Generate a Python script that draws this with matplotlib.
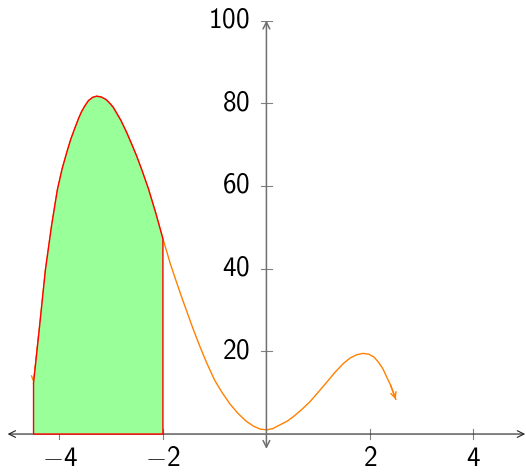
import matplotlib
matplotlib.use("Agg")
import matplotlib.pyplot as plt
import numpy as np

# curve points
x_vals = [-4.5, -4.4, -4.27, -4.15, -4.04, -3.95, -3.86, -3.78, -3.7, -3.63,
          -3.57, -3.51, -3.44, -3.36, -3.28, -3.19, -3.10, -3.02, -2.96, -2.88,
          -2.81, -2.70, -2.60, -2.51, -2.40, -2.28, -2.14, -2.0, -1.93, -1.86,
          -1.75, -1.64, -1.52, -1.41, -1.28, -1.15, -1.0, -0.85, -0.70, -0.55,
          -0.40, -0.25, -0.12, 0.0, 0.12, 0.26, 0.40, 0.52, 0.68, 0.84, 1.0,
          1.17, 1.33, 1.49, 1.62, 1.75, 1.87, 1.98, 2.08, 2.17, 2.25,
          2.32, 2.40, 2.5]
y_vals = [12.3, 24.0, 39.7, 50.5, 59.0, 64.0, 68.0, 71.3, 74.0, 76.3,
          78.0, 79.3, 80.6, 81.4, 81.7, 81.5, 80.9, 79.9, 79.0, 77.3,
          75.8, 72.9, 70.0, 67.3, 63.6, 59.3, 53.5, 47.2, 44.3, 41.3,
          37.2, 33.2, 29.0, 25.2, 21.0, 17.1, 13.0, 9.9, 7.2, 5.0,
          3.2, 1.9, 1.2, 1.0, 1.3, 2.2, 3.1, 4.2, 5.9, 7.8, 10.1,
          12.6, 15.0, 17.1, 18.4, 19.2, 19.5, 19.3, 18.6, 17.3, 15.8,
          13.9, 11.8, 8.4]

fill_from, fill_to = -4.5, -2.0
x_ticks = [-4, -2, 2, 4]
y_ticks = [20, 40, 60, 80, 100]

plt.rcParams['mathtext.fontset'] = 'custom'
plt.rcParams['mathtext.rm'] = 'cmss10'
plt.rcParams['mathtext.sf'] = 'cmss10'
plt.rcParams['mathtext.it'] = 'cmss10'

orange = '#ff8000'
fig = plt.figure(figsize=(5.26, 4.72), dpi=100)
ax = fig.add_axes([0.01455, 0.0489, 0.9839, 0.9076])
ax.set_xlim(-5, 5)
ax.set_ylim(-3.6, 100)

for s in ['top', 'right', 'left', 'bottom']:
    ax.spines[s].set_visible(False)

# axis lines with arrows
ax.annotate('', xy=(5, 0), xytext=(-5, 0),
            arrowprops=dict(arrowstyle='<->', color='#222222', lw=0.8,
                            shrinkA=0, shrinkB=0, mutation_scale=12))
ax.annotate('', xy=(0, 100), xytext=(0, -3.6),
            arrowprops=dict(arrowstyle='<->', color='#707070', lw=1.1,
                            shrinkA=0, shrinkB=0, mutation_scale=12))

# curve
x = np.array(x_vals)
y = np.array(y_vals)
ax.plot(x, y, color=orange, lw=1.0, zorder=2)
ax.annotate('', xy=(x[-1], y[-1]), xytext=(x[-2], y[-2]),
            arrowprops=dict(arrowstyle='->', color=orange, lw=1.0,
                            shrinkA=0, shrinkB=0, mutation_scale=10))
ax.annotate('', xy=(x[0], y[0]), xytext=(x[1], y[1]),
            arrowprops=dict(arrowstyle='->', color=orange, lw=1.0,
                            shrinkA=0, shrinkB=0, mutation_scale=10))

# filled area
m = (x >= fill_from) & (x <= fill_to)
fx = np.concatenate([[fill_from], x[m], [fill_to]])
fy = np.concatenate([[0], y[m], [0]])
ax.fill(fx, fy, facecolor='#99ff99', edgecolor='red', lw=1.0, zorder=3)

# ticks
for t in x_ticks:
    ax.plot([t, t], [-1.2, 1.2], color='#808080', lw=0.8, zorder=1)
    ax.text(t, -6.0, r'$%d$' % t, ha='center', va='center', fontsize=19.5)
for t in y_ticks:
    ax.plot([-0.1, 0.1], [t, t], color='#808080', lw=0.8, zorder=1)
    ax.text(-0.32, t, r'$%d$' % t, ha='right', va='center', fontsize=19.5)

ax.set_xticks([])
ax.set_yticks([])
ax.patch.set_visible(False)

fig.savefig('out.png', dpi=100)
